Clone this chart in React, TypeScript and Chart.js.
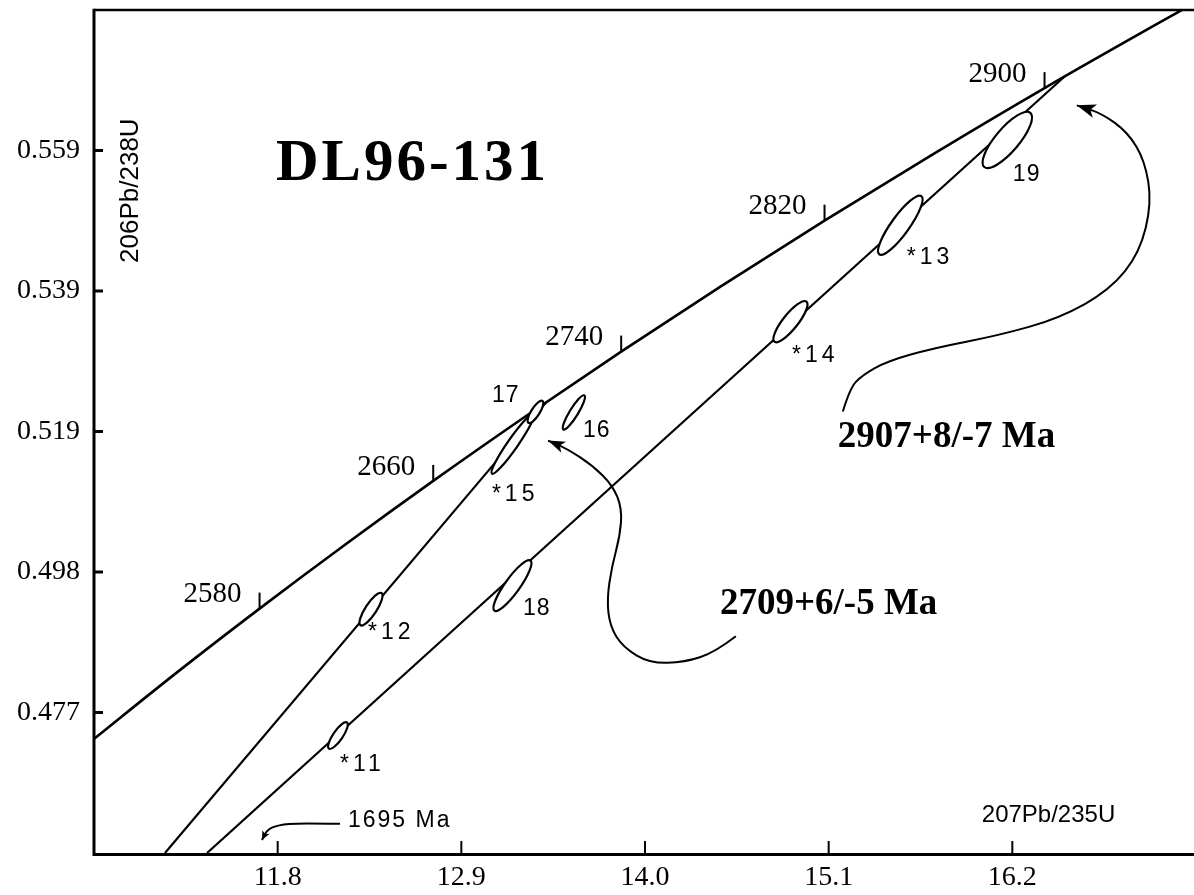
import React, { useEffect, useRef } from "react";
import { Chart, registerables } from "chart.js";

Chart.register(...registerables);

// ---------------- axes ----------------
const xMin = 10.7;
const xMax = 17.3;
const yMin = 0.4565;
const yMax = 0.5795;
const xTickValues = [11.8, 12.9, 14.0, 15.1, 16.2];
const xTickLabels = ["11.8", "12.9", "14.0", "15.1", "16.2"];
const yTickValues = [0.477, 0.4975, 0.518, 0.5385, 0.559];
const yTickLabels = ["0.477", "0.498", "0.519", "0.539", "0.559"];

// ---------------- concordia (age in Ma, 207Pb/235U, 206Pb/238U) ----------------
const concordiaAges = [2495, 2540, 2580, 2620, 2660, 2700, 2740, 2780, 2820, 2860, 2900, 2960];
const concordiaX = [10.6721, 11.201, 11.6915, 12.2012, 12.7316, 13.2833, 13.8573, 14.4542, 15.0752, 15.7211, 16.3929, 17.4517];
const concordiaY = [0.47261, 0.48293, 0.49216, 0.50144, 0.51079, 0.52019, 0.52966, 0.53918, 0.54876, 0.5584, 0.5681, 0.58276];
const ageTickAges = [2580, 2660, 2740, 2820, 2900];

// ---------------- discordia lines ----------------
const discordia2709X = [11.125, 13.4105];
const discordia2709Y = [0.4565, 0.52232];
const discordia2907X = [11.377, 16.513];
const discordia2907Y = [0.4565, 0.5698];

// ---------------- zircon analyses (error ellipses) ----------------
const spotLabels = ["*11", "*12", "*15", "17", "16", "18", "*14", "*13", "19"];
const spotX = [12.161, 12.359, 13.209, 13.344, 13.574, 13.206, 14.871, 15.529, 16.17];
const spotY = [0.47363, 0.49208, 0.51624, 0.52086, 0.52078, 0.49552, 0.53403, 0.54809, 0.56054];
const spotTipX = [12.215, 12.422, 13.335, 13.386, 13.637, 13.314, 14.967, 15.655, 16.308];
const spotTipY = [0.47554, 0.49443, 0.52064, 0.52247, 0.52327, 0.49918, 0.53696, 0.55234, 0.56449];
const spotAspect = [0.3, 0.29, 0.14, 0.32, 0.21, 0.24, 0.29, 0.25, 0.33];
const spotLabelX = [12.173, 12.341, 13.083, 13.083, 13.628, 13.269, 14.88, 15.568, 16.203];
const spotLabelY = [0.46939, 0.48871, 0.50878, 0.52327, 0.51815, 0.49208, 0.52913, 0.54333, 0.55549];

// ---------------- annotation arrows (data coordinates) ----------------
const arrow1695X = [12.173, 11.934, 11.802, 11.736, 11.706];
const arrow1695Y = [0.46075, 0.46089, 0.4606, 0.45987, 0.4584];
const arrow2709X = [14.544, 14.419, 14.239, 14.029, 13.868, 13.79, 13.772, 13.802, 13.85, 13.862, 13.808, 13.688, 13.532, 13.419];
const arrow2709Y = [0.48813, 0.48579, 0.48432, 0.48418, 0.48652, 0.48959, 0.49355, 0.49838, 0.50277, 0.50673, 0.51009, 0.51302, 0.51551, 0.51668];
const arrow2907X = [15.185, 15.227, 15.299, 15.449, 15.724, 16.125, 16.484, 16.784, 16.963, 17.035, 16.993, 16.892, 16.736, 16.586];
const arrow2907Y = [0.52093, 0.5243, 0.5262, 0.52825, 0.53015, 0.53206, 0.53455, 0.53865, 0.54407, 0.55139, 0.55754, 0.56164, 0.56442, 0.56559];

// ---------------- texts ----------------
const titleText = "DL96-131";
const titleAt = [11.79, 0.55475];
const age2907Text = "2907+8/-7 Ma";
const age2907At = [15.155, 0.5158];
const age2709Text = "2709+6/-5 Ma";
const age2709At = [14.449, 0.49135];
const lowerText = "1695 Ma";
const lowerAt = [12.221, 0.46119];
const xTitle = "207Pb/235U";
const xTitleAt = [16.017, 0.46206];
const yTitle = "206Pb/238U";
const yTitleAt = [10.922, 0.55314];

const SERIF = '"Liberation Serif", "Times New Roman", serif';
const SANS = '"Liberation Sans", Arial, sans-serif';

function smoothStroke(ctx: CanvasRenderingContext2D, pts: number[][]) {
  ctx.beginPath();
  ctx.moveTo(pts[0][0], pts[0][1]);
  for (let i = 1; i < pts.length - 1; i++) {
    const mx = (pts[i][0] + pts[i + 1][0]) / 2;
    const my = (pts[i][1] + pts[i + 1][1]) / 2;
    ctx.quadraticCurveTo(pts[i][0], pts[i][1], mx, my);
  }
  const l = pts[pts.length - 1];
  ctx.lineTo(l[0], l[1]);
  ctx.stroke();
}

function arrowHead(ctx: CanvasRenderingContext2D, from: number[], tip: number[], len: number, half: number) {
  const dx = tip[0] - from[0];
  const dy = tip[1] - from[1];
  const d = Math.hypot(dx, dy) || 1;
  const ux = dx / d, uy = dy / d;
  const bx = tip[0] - ux * len, by = tip[1] - uy * len;
  ctx.beginPath();
  ctx.moveTo(tip[0], tip[1]);
  ctx.lineTo(bx - uy * half, by + ux * half);
  ctx.lineTo(bx + ux * len * 0.25, by + uy * len * 0.25);
  ctx.lineTo(bx + uy * half, by - ux * half);
  ctx.closePath();
  ctx.fill();
}

const overlayPlugin = {
  id: "overlay",
  afterDatasetsDraw(chart: any) {
    const { ctx } = chart;
    const xs = chart.scales.x, ys = chart.scales.y;
    const X = (v: number) => xs.getPixelForValue(v);
    const Y = (v: number) => ys.getPixelForValue(v);
    ctx.save();
    ctx.strokeStyle = "#000";
    ctx.lineWidth = 2.2;
    for (let i = 0; i < spotX.length; i++) {
      const cx = X(spotX[i]), cy = Y(spotY[i]);
      const tx = X(spotTipX[i]), ty = Y(spotTipY[i]);
      const a = Math.hypot(tx - cx, ty - cy);
      const rot = Math.atan2(ty - cy, tx - cx);
      ctx.beginPath();
      ctx.ellipse(cx, cy, a, a * spotAspect[i], rot, 0, Math.PI * 2);
      ctx.fillStyle = "#fff";
      ctx.fill();
      ctx.stroke();
    }
    ctx.restore();
  },
  afterDraw(chart: any) {
    const { ctx, chartArea: ca } = chart;
    const xs = chart.scales.x, ys = chart.scales.y;
    const X = (v: number) => xs.getPixelForValue(v);
    const Y = (v: number) => ys.getPixelForValue(v);
    const c: any = ctx;
    ctx.save();
    ctx.strokeStyle = "#000";
    ctx.fillStyle = "#000";
    ctx.lineCap = "butt";

    // frame
    ctx.lineWidth = 2.5;
    ctx.beginPath();
    ctx.moveTo(ca.left, ca.top);
    ctx.lineTo(chart.width, ca.top);
    ctx.stroke();
    ctx.lineWidth = 3;
    ctx.beginPath();
    ctx.moveTo(ca.left, ca.top - 1.25);
    ctx.lineTo(ca.left, ca.bottom + 1.5);
    ctx.lineTo(chart.width, ca.bottom + 1.5);
    ctx.stroke();

    // inward tick marks
    ctx.lineWidth = 3;
    for (const v of yTickValues) {
      ctx.beginPath();
      ctx.moveTo(ca.left, Y(v));
      ctx.lineTo(ca.left + 9, Y(v));
      ctx.stroke();
    }
    ctx.lineWidth = 2;
    for (const v of xTickValues) {
      ctx.beginPath();
      ctx.moveTo(X(v), ca.bottom);
      ctx.lineTo(X(v), ca.bottom - 12);
      ctx.stroke();
    }

    // concordia age ticks and labels
    ctx.font = `29px ${SERIF}`;
    ctx.textAlign = "right";
    ctx.textBaseline = "middle";
    for (const age of ageTickAges) {
      const i = concordiaAges.indexOf(age);
      const px = X(concordiaX[i]), py = Y(concordiaY[i]);
      ctx.lineWidth = 2;
      ctx.beginPath();
      ctx.moveTo(px, py);
      ctx.lineTo(px, py - 16);
      ctx.stroke();
      ctx.fillText(String(age), px - 18, py - 14);
    }

    // spot labels
    ctx.font = `23px ${SANS}`;
    ctx.textAlign = "left";
    ctx.textBaseline = "middle";
    for (let i = 0; i < spotLabels.length; i++) {
      const starred = spotLabels[i].startsWith("*");
      c.letterSpacing = starred ? "4px" : "1px";
      ctx.fillText(spotLabels[i], X(spotLabelX[i]), Y(spotLabelY[i]));
    }
    c.letterSpacing = "2px";
    ctx.fillText(lowerText, X(lowerAt[0]), Y(lowerAt[1]));
    c.letterSpacing = "0px";

    // axis titles
    ctx.font = `24px ${SANS}`;
    ctx.fillText(xTitle, X(xTitleAt[0]), Y(xTitleAt[1]));
    ctx.save();
    ctx.font = `26px ${SANS}`;
    ctx.translate(X(yTitleAt[0]), Y(yTitleAt[1]));
    ctx.rotate(-Math.PI / 2);
    ctx.textAlign = "center";
    ctx.fillText(yTitle, 0, 0);
    ctx.restore();

    // title and ages
    ctx.textBaseline = "alphabetic";
    ctx.textAlign = "left";
    ctx.font = `bold 59px ${SERIF}`;
    c.letterSpacing = "3px";
    ctx.fillText(titleText, X(titleAt[0]), Y(titleAt[1]));
    c.letterSpacing = "0px";
    ctx.font = `bold 37px ${SERIF}`;
    ctx.fillText(age2907Text, X(age2907At[0]), Y(age2907At[1]));
    ctx.fillText(age2709Text, X(age2709At[0]), Y(age2709At[1]));

    // arrows
    ctx.lineWidth = 2;
    const arrows: [number[], number[], number, number][] = [
      [arrow1695X, arrow1695Y, 9, 4],
      [arrow2709X, arrow2709Y, 17, 6],
      [arrow2907X, arrow2907Y, 19, 7],
    ];
    for (const [ax, ay, len, half] of arrows) {
      const pts = ax.map((v, k) => [X(v), Y(ay[k])]);
      smoothStroke(ctx, pts);
      arrowHead(ctx, pts[pts.length - 2], pts[pts.length - 1], len, half);
    }
    ctx.restore();
  },
};

export default function App() {
  const ref = useRef<HTMLCanvasElement>(null);
  useEffect(() => {
    const canvas = ref.current!;
    const toPts = (xa: number[], ya: number[]) => xa.map((x, i) => ({ x, y: ya[i] }));
    const chart = new Chart(canvas, {
      type: "scatter",
      data: {
        datasets: [
          {
            label: "concordia",
            data: toPts(concordiaX, concordiaY),
            showLine: true,
            borderColor: "#000",
            borderWidth: 2.6,
            pointRadius: 0,
            cubicInterpolationMode: "monotone",
          },
          {
            label: "discordia 2709",
            data: toPts(discordia2709X, discordia2709Y),
            showLine: true,
            borderColor: "#000",
            borderWidth: 2.2,
            pointRadius: 0,
          },
          {
            label: "discordia 2907",
            data: toPts(discordia2907X, discordia2907Y),
            showLine: true,
            borderColor: "#000",
            borderWidth: 2.2,
            pointRadius: 0,
          },
        ],
      } as any,
      options: {
        animation: false,
        responsive: false,
        devicePixelRatio: 1,
        events: [],
        layout: { padding: { left: 0, right: 14, top: 10, bottom: 0 } },
        plugins: { legend: { display: false }, tooltip: { enabled: false }, title: { display: false } },
        scales: {
          x: {
            type: "linear",
            min: xMin,
            max: xMax,
            grid: { display: false, drawTicks: false },
            border: { display: false },
            afterBuildTicks: (s: any) => {
              s.ticks = xTickValues.map((v) => ({ value: v }));
            },
            afterFit: (s: any) => {
              s.height = 42;
              s.paddingLeft = 0;
              s.paddingRight = 0;
            },
            ticks: {
              autoSkip: false,
              maxRotation: 0,
              padding: 8,
              color: "#000",
              font: { family: "Liberation Serif", size: 28 },
              callback: (_v: any, i: number) => xTickLabels[i],
            },
          },
          y: {
            type: "linear",
            min: yMin,
            max: yMax,
            grid: { display: false, drawTicks: false },
            border: { display: false },
            afterBuildTicks: (s: any) => {
              s.ticks = yTickValues.map((v) => ({ value: v }));
            },
            afterFit: (s: any) => {
              s.width = 94;
              s.paddingTop = 0;
              s.paddingBottom = 0;
            },
            ticks: {
              autoSkip: false,
              padding: 14,
              color: "#000",
              font: { family: "Liberation Serif", size: 28 },
              callback: (_v: any, i: number) => yTickLabels[i],
            },
          },
        },
      } as any,
      plugins: [overlayPlugin],
    });
    return () => chart.destroy();
  }, []);
  return (
    <div
      style={{
        position: "fixed",
        left: 0,
        top: 0,
        width: 1194,
        height: 895,
        overflow: "hidden",
        background: "#fff",
      }}
    >
      <canvas ref={ref} width={1210} height={895} style={{ display: "block", width: 1210, height: 895 }} />
    </div>
  );
}
